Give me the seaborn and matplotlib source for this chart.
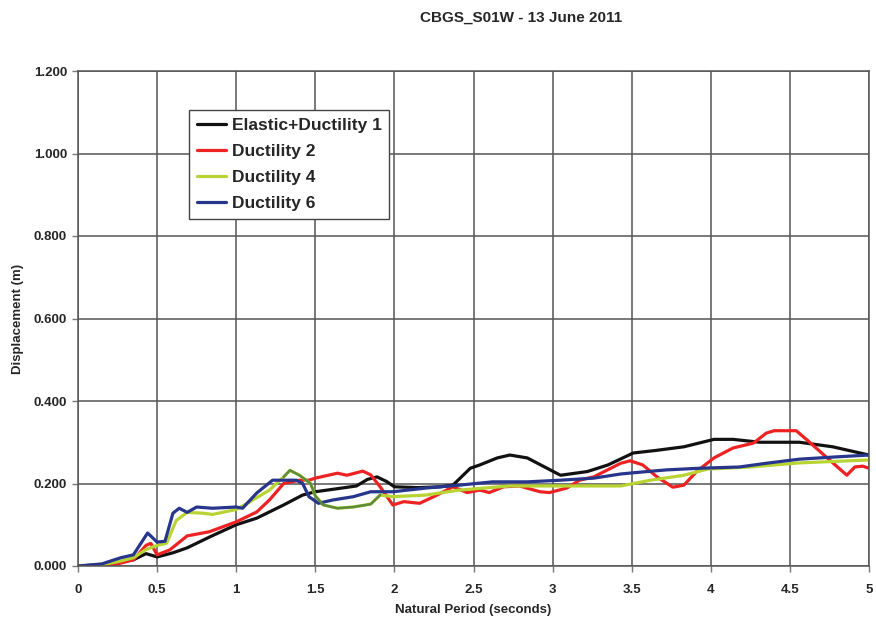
import matplotlib
matplotlib.use("Agg")
import matplotlib.pyplot as plt
import seaborn as sns
import pandas as pd
import numpy as np

# ---- data ----
x_elastic = [0, 0.1, 0.2, 0.27, 0.35, 0.43, 0.5, 0.6, 0.69, 0.83, 1.0, 1.13, 1.3, 1.42, 1.5, 1.65,
             1.76, 1.83, 1.89, 1.95, 2.0, 2.15, 2.29, 2.37, 2.48, 2.54, 2.65, 2.73, 2.84, 2.95, 3.05,
             3.22, 3.35, 3.51, 3.65, 3.83, 4.02, 4.14, 4.31, 4.56, 4.77, 5.0]
y_elastic = [0, 0.002, 0.005, 0.01, 0.015, 0.03, 0.022, 0.032, 0.044, 0.07, 0.10, 0.116, 0.148, 0.172,
             0.18, 0.188, 0.194, 0.21, 0.216, 0.205, 0.192, 0.19, 0.192, 0.196, 0.237, 0.245, 0.262,
             0.269, 0.262, 0.24, 0.22, 0.229, 0.245, 0.274, 0.28, 0.289, 0.307, 0.307, 0.30, 0.30,
             0.289, 0.269]

x_duct2 = [0, 0.15, 0.25, 0.35, 0.43, 0.46, 0.5, 0.58, 0.69, 0.83, 1.0, 1.13, 1.21, 1.30, 1.40, 1.46,
           1.5, 1.64, 1.70, 1.80, 1.85, 1.91, 1.99, 2.06, 2.16, 2.27, 2.37, 2.46, 2.54, 2.60, 2.69,
           2.79, 2.92, 2.98, 3.09, 3.17, 3.26, 3.43, 3.49, 3.57, 3.66, 3.76, 3.83, 3.91, 4.02, 4.14,
           4.27, 4.35, 4.40, 4.54, 4.61, 4.73, 4.86, 4.91, 4.96, 5.0]
y_duct2 = [0, 0.001, 0.005, 0.015, 0.05, 0.055, 0.027, 0.039, 0.073, 0.083, 0.107, 0.131, 0.16, 0.2,
           0.208, 0.208, 0.213, 0.225, 0.22, 0.23, 0.221, 0.192, 0.148, 0.156, 0.152, 0.172, 0.192,
           0.178, 0.184, 0.178, 0.192, 0.194, 0.18, 0.178, 0.189, 0.208, 0.216, 0.249, 0.255, 0.245,
           0.216, 0.191, 0.196, 0.229, 0.262, 0.286, 0.298, 0.322, 0.328, 0.328, 0.305, 0.264, 0.22,
           0.24, 0.242, 0.237]

x_duct4 = [0, 0.15, 0.27, 0.35, 0.43, 0.5, 0.56, 0.62, 0.69, 0.79, 0.85, 1.0, 1.07, 1.21, 1.30, 1.34,
           1.40, 1.47, 1.5, 1.55, 1.64, 1.74, 1.85, 1.91, 1.99, 2.2, 2.41, 2.73, 2.96, 3.43, 3.62,
           3.83, 3.98, 4.25, 4.56, 5.0]
y_duct4 = [0, 0.003, 0.012, 0.02, 0.04, 0.05, 0.055, 0.11, 0.13, 0.128, 0.125, 0.137, 0.152, 0.184,
           0.216, 0.232, 0.22, 0.2, 0.17, 0.148, 0.14, 0.143, 0.15, 0.172, 0.168, 0.172, 0.184, 0.194,
           0.194, 0.194, 0.208, 0.22, 0.235, 0.24, 0.25, 0.257]

x_duct6 = [0, 0.15, 0.27, 0.35, 0.44, 0.5, 0.55, 0.6, 0.64, 0.69, 0.75, 0.85, 1.0, 1.04, 1.13, 1.23,
           1.38, 1.42, 1.46, 1.52, 1.61, 1.74, 1.85, 1.99, 2.2, 2.41, 2.62, 2.84, 3.05, 3.26, 3.43,
           3.51, 3.72, 3.93, 4.18, 4.35, 4.56, 4.77, 5.0]
y_duct6 = [0, 0.005, 0.02, 0.027, 0.08, 0.058, 0.06, 0.128, 0.14, 0.13, 0.143, 0.14, 0.143, 0.14,
           0.177, 0.208, 0.208, 0.2, 0.168, 0.152, 0.16, 0.168, 0.18, 0.18, 0.189, 0.196, 0.204,
           0.204, 0.208, 0.213, 0.223, 0.226, 0.233, 0.237, 0.24, 0.249, 0.259, 0.264, 0.269]

series_names = ["Elastic+Ductility 1", "Ductility 2", "Ductility 4", "Ductility 6"]
series_colors = ["#111111", "#ee2222", "#b8d432", "#27358c"]
x_ticks = [0, 0.5, 1, 1.5, 2, 2.5, 3, 3.5, 4, 4.5, 5]
x_tick_labels = ["0", "0.5", "1", "1.5", "2", "2.5", "3", "3.5", "4", "4.5", "5"]
y_ticks = [0, 0.2, 0.4, 0.6, 0.8, 1.0, 1.2]
y_tick_labels = ["0.000", "0.200", "0.400", "0.600", "0.800", "1.000", "1.200"]

frames = []
for name, xs, ys in zip(series_names, [x_elastic, x_duct2, x_duct4, x_duct6],
                        [y_elastic, y_duct2, y_duct4, y_duct6]):
    frames.append(pd.DataFrame({"period": xs, "disp": ys, "series": name}))
df = pd.concat(frames, ignore_index=True)

sns.set_style("white")
plt.rcParams["font.family"] = ["Liberation Sans", "DejaVu Sans"]

fig = plt.figure(figsize=(8.76, 6.23), dpi=100)
ax = fig.add_axes([78 / 876, 1 - 566 / 623, (869 - 78) / 876, (566 - 71) / 623])

sns.lineplot(data=df, x="period", y="disp", hue="series", hue_order=series_names,
             palette=dict(zip(series_names, series_colors)), estimator=None, sort=False,
             units="series", linewidth=2.3, ax=ax, legend=True)

# darker olive trace over part of Ductility 4
d4 = df[(df.series == "Ductility 4") & (df.period >= 1.25) & (df.period <= 1.95)]
sns.lineplot(data=d4, x="period", y="disp", color="#5e8a3c", estimator=None, sort=False,
             linewidth=1.8, ax=ax, legend=False)

ax.set_xlim(0, 5)
ax.set_ylim(0, 1.2)
ax.set_xticks(x_ticks)
ax.set_xticklabels(x_tick_labels)
ax.set_yticks(y_ticks)
ax.set_yticklabels(y_tick_labels)
ax.grid(True, color="#555555", linewidth=1.1)
ax.set_axisbelow(True)
for sp in ax.spines.values():
    sp.set_color("#555555")
    sp.set_linewidth(1.1)
ax.tick_params(axis="both", labelsize=9.5, length=4, width=1, color="#777777",
               direction="out", bottom=True, left=True)
ax.tick_params(axis="x", pad=9)
ax.tick_params(axis="y", pad=4)
for lab in ax.get_xticklabels() + ax.get_yticklabels():
    lab.set_fontweight("bold")

ax.set_xlabel("Natural Period (seconds)", fontsize=9.5, fontweight="bold", labelpad=6)
ax.set_ylabel("Displacement (m)", fontsize=9.5, fontweight="bold", labelpad=7)
fig.text(521 / 876, 1 - 18 / 623, "CBGS_S01W - 13 June 2011", ha="center", va="center",
         fontsize=11, fontweight="bold")

leg = ax.legend(loc="upper left", bbox_to_anchor=((189 - 78) / 791, (566 - 110) / 495),
                frameon=True, fancybox=False, edgecolor="#444444", framealpha=1,
                prop={"weight": "bold", "size": 12.5}, handlelength=1.7, handletextpad=0.3,
                labelspacing=0.62, borderpad=0.45, borderaxespad=0)
leg.get_frame().set_linewidth(1.0)

fig.savefig("out.png", dpi=100, facecolor="white")
